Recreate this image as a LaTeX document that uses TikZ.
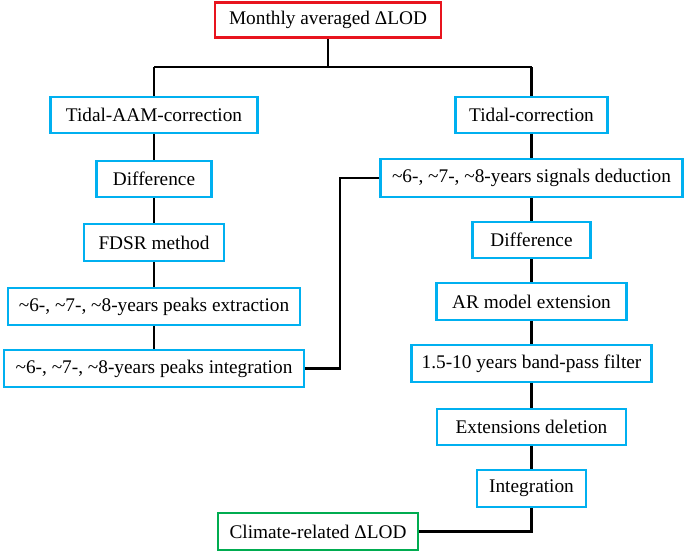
\documentclass[tikz,border=0pt]{standalone}
\usepackage{fontspec}
\setmainfont{Liberation Serif}
\definecolor{boxblue}{RGB}{0,176,240}
\definecolor{boxred}{RGB}{232,20,30}
\definecolor{boxgreen}{RGB}{0,172,80}
\tikzset{
  bx/.style={draw=boxblue, line width=2.7pt, inner sep=0pt, minimum height=36pt,
    font=\fontsize{19.3}{22}\selectfont, fill=white},
  conn/.style={line width=2.4pt, black}
}
\newcommand{\tl}{\textasciitilde}
\begin{document}
\begin{tikzpicture}[x=1pt, y=-1pt]
\useasboundingbox (0,0) rectangle (685,552);
% top
\node[bx, draw=boxred, minimum width=226pt, minimum height=35pt] (top) at (328,20.25) {Monthly averaged ΔLOD};
% left column
\node[bx, minimum width=207pt] (tidalAAM) at (154,115) {Tidal-AAM-correction};
\node[bx, minimum width=115pt] (diffL) at (154,179) {Difference};
\node[bx, minimum width=140pt, minimum height=37pt] (fdsr) at (154,242.5) {FDSR method};
\node[bx, minimum width=292pt, minimum height=37pt] (extr) at (154,306.5) {\tl6-, \tl7-, \tl8-years peaks extraction};
\node[bx, minimum width=300pt, minimum height=37pt] (integL) at (154,368.5) {\tl6-, \tl7-, \tl8-years peaks integration};
% right column
\node[bx, minimum width=152pt] (tidalC) at (531.5,115) {Tidal-correction};
\node[bx, minimum width=302pt, minimum height=38pt] (signals) at (531.5,178) {\tl6-, \tl7-, \tl8-years signals deduction};
\node[bx, minimum width=118pt] (diffR) at (531.5,240) {Difference};
\node[bx, minimum width=190pt, minimum height=37pt] (ar) at (531.5,301.5) {AR model extension};
\node[bx, minimum width=240pt, minimum height=37pt] (band) at (531.5,363.5) {1.5-10 years band-pass filter};
\node[bx, minimum width=189pt] (ext) at (531.5,427) {Extensions deletion};
\node[bx, minimum width=109pt, minimum height=37pt] (integR) at (531.5,488.5) {Integration};
% bottom
\node[bx, draw=boxgreen, minimum width=200pt, minimum height=37pt] (climate) at (318,531.5) {Climate-related ΔLOD};
% connectors
\coordinate (split) at (328,67);
\coordinate (lsplit) at (154,67);
\coordinate (rsplit) at (531.5,67);
\coordinate (jx) at (340,0);
\draw[conn] (top.south) -- (split);
\draw[conn] (lsplit) -- (rsplit);
\draw[conn] (lsplit) -- (tidalAAM.north);
\draw[conn] (rsplit) -- (tidalC.north);
\draw[conn] (tidalAAM.south) -- (diffL.north);
\draw[conn] (diffL.south) -- (fdsr.north);
\draw[conn] (fdsr.south) -- (extr.north);
\draw[conn] (extr.south) -- (integL.north);
\draw[conn] (tidalC.south) -- (signals.north);
\draw[conn] (signals.south) -- (diffR.north);
\draw[conn] (diffR.south) -- (ar.north);
\draw[conn] (ar.south) -- (band.north);
\draw[conn] (band.south) -- (ext.north);
\draw[conn] (ext.south) -- (integR.north);
\draw[conn] (integL.east) -- (integL.east -| jx) |- (signals.west);
\draw[conn] (integR.south) |- (climate.east);
\end{tikzpicture}
\end{document}
